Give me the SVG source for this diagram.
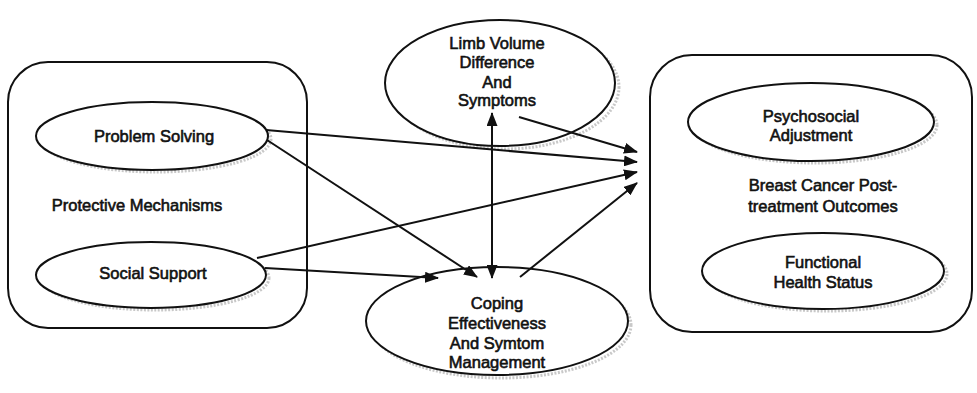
<svg xmlns="http://www.w3.org/2000/svg" width="977" height="393" viewBox="0 0 977 393">
<style>
.box{fill:none;stroke:#111;stroke-width:2}
.el{fill:#fff;stroke:#111;stroke-width:2}
.sh{fill:none;stroke:#c8c8c8;stroke-width:3;stroke-dasharray:2 1.5}
.t{font-family:"Liberation Sans",Arial,sans-serif;font-size:16.5px;fill:#111;stroke:#111;stroke-width:0.6;text-anchor:middle}
.c{fill:none;stroke:#111;stroke-width:2}
</style>
<defs>
<marker id="ah" viewBox="0 0 14 11" refX="13" refY="5.5" markerWidth="14" markerHeight="11" markerUnits="userSpaceOnUse" orient="auto-start-reverse">
<path d="M0,0 L14,5.5 L0,11 z" fill="#111"/>
</marker>
</defs>
<rect width="977" height="393" fill="#fff"/>
<g id="protective">
<rect class="box" x="8" y="62" width="299" height="266" rx="40"/>
<text class="t" x="137" y="211">Protective Mechanisms</text>
</g>
<g id="outcomes">
<rect class="box" x="650" y="55" width="322" height="277" rx="42"/>
<text class="t" x="823" y="191">Breast Cancer Post-</text>
<text class="t" x="823" y="212">treatment Outcomes</text>
</g>
<g id="problem-solving">
<ellipse class="sh" cx="156" cy="139" rx="115" ry="33"/>
<ellipse class="el" cx="152" cy="136" rx="116" ry="34"/>
<text class="t" x="154" y="142">Problem Solving</text>
</g>
<g id="social-support">
<ellipse class="sh" cx="155" cy="278" rx="114" ry="32"/>
<ellipse class="el" cx="151" cy="275" rx="115" ry="33"/>
<text class="t" x="153" y="279">Social Support</text>
</g>
<g id="limb-volume">
<ellipse class="sh" cx="505" cy="87" rx="114" ry="62"/>
<ellipse class="el" cx="500" cy="83" rx="115" ry="63"/>
<text class="t" x="497" y="49">Limb Volume</text>
<text class="t" x="497" y="68">Difference</text>
<text class="t" x="497" y="88">And</text>
<text class="t" x="497" y="106">Symptoms</text>
</g>
<g id="coping">
<ellipse class="sh" cx="501" cy="325" rx="130" ry="53"/>
<ellipse class="el" cx="497" cy="321" rx="131" ry="54"/>
<text class="t" x="497" y="309">Coping</text>
<text class="t" x="497" y="329">Effectiveness</text>
<text class="t" x="497" y="349">And Symtom</text>
<text class="t" x="497" y="368">Management</text>
</g>
<g id="psychosocial">
<ellipse class="sh" cx="815" cy="125" rx="122" ry="38"/>
<ellipse class="el" cx="811" cy="122" rx="123" ry="39"/>
<text class="t" x="811" y="122">Psychosocial</text>
<text class="t" x="811" y="141">Adjustment</text>
</g>
<g id="functional">
<ellipse class="sh" cx="827" cy="274" rx="120" ry="37"/>
<ellipse class="el" cx="823" cy="271" rx="121" ry="38"/>
<text class="t" x="823" y="268">Functional</text>
<text class="t" x="823" y="288">Health Status</text>
</g>
<g id="connectors">
<line class="c" x1="266" y1="130" x2="637" y2="162" marker-end="url(#ah)"/>
<line class="c" x1="519" y1="117" x2="637" y2="152" marker-end="url(#ah)"/>
<line class="c" x1="257" y1="258" x2="637" y2="172" marker-end="url(#ah)"/>
<line class="c" x1="520" y1="277" x2="637" y2="183" marker-end="url(#ah)"/>
<line class="c" x1="267" y1="140" x2="477" y2="277" marker-end="url(#ah)"/>
<line class="c" x1="265" y1="268" x2="438" y2="278" marker-end="url(#ah)"/>
<line class="c" x1="492" y1="113" x2="492" y2="278" marker-start="url(#ah)" marker-end="url(#ah)"/>
</g>
</svg>
